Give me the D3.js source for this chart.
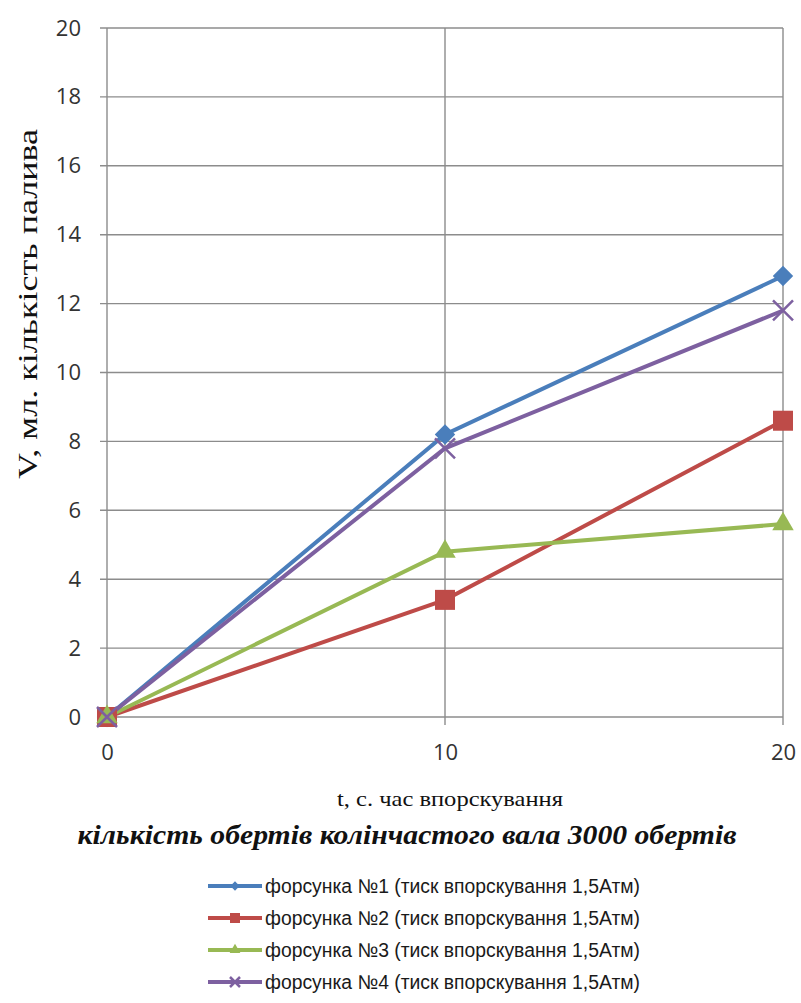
<!DOCTYPE html>
<html><head><meta charset="utf-8">
<script src="https://cdn.jsdelivr.net/npm/d3@7"></script>
<style>body{margin:0;background:#fff}</style>
</head><body>
<svg id="c" width="801" height="1003"></svg>
<script>
const xValues = [0, 10, 20];
const s1 = [0, 8.2, 12.8];
const s2 = [0, 3.4, 8.6];
const s3 = [0, 4.8, 5.6];
const s4 = [0, 7.8, 11.8];
const yTicks = [0, 2, 4, 6, 8, 10, 12, 14, 16, 18, 20];
const xTicks = [0, 10, 20];
const seriesNames = [
  "форсунка №1 (тиск впорскування 1,5Атм)",
  "форсунка №2 (тиск впорскування 1,5Атм)",
  "форсунка №3 (тиск впорскування 1,5Атм)",
  "форсунка №4 (тиск впорскування 1,5Атм)"
];
const colors = ["#4A7EBB", "#BE4B48", "#98B954", "#7D60A0"];
const markers = ["diamond", "square", "triangle", "cross"];
const yLabel = "V, мл. кількість палива";
const xLabel = "t, с. час впорскування";
const subTitle = "кількість обертів колінчастого вала 3000 обертів";

const series = [s1, s2, s3, s4].map((v, i) => ({name: seriesNames[i], color: colors[i], marker: markers[i], values: v.map((y, j) => ({x: xValues[j], y}))}));

const svg = d3.select("#c");
const L = 107, R = 783, T = 28, B = 717;
const x = d3.scaleLinear().domain([0, 20]).range([L, R]);
const y = d3.scaleLinear().domain([0, 20]).range([B, T]);

const tickFont = "Open Sans, sans-serif";

// horizontal gridlines
svg.append("g").selectAll("line").data(yTicks).join("line")
  .attr("x1", L - 7).attr("x2", R).attr("y1", d => y(d)).attr("y2", d => y(d))
  .attr("stroke", "#8c8c8c").attr("stroke-width", 1.4);
// vertical gridlines
svg.append("g").selectAll("line").data(xTicks).join("line")
  .attr("x1", d => x(d)).attr("x2", d => x(d)).attr("y1", T).attr("y2", B + 8)
  .attr("stroke", "#8c8c8c").attr("stroke-width", 1.4);

// axis tick labels
const yAxis = d3.axisLeft(y).tickValues(yTicks).tickSize(0).tickPadding(26);
const gy = svg.append("g").attr("transform", `translate(${L},0)`).call(yAxis);
gy.select(".domain").remove();
gy.selectAll("text").attr("font-family", tickFont).attr("font-size", 22).attr("fill", "#333");

const xAxis = d3.axisBottom(x).tickValues(xTicks).tickSize(0).tickPadding(27);
const gx = svg.append("g").attr("transform", `translate(0,${B})`).call(xAxis);
gx.select(".domain").remove();
gx.selectAll("text").attr("font-family", tickFont).attr("font-size", 22).attr("fill", "#333");

// lines
const line = d3.line().x(d => x(d.x)).y(d => y(d.y));
svg.append("g").selectAll("path").data(series).join("path")
  .attr("d", d => line(d.values)).attr("fill", "none")
  .attr("stroke", d => d.color).attr("stroke-width", 4);

function drawMarker(g, type, color, size) {
  if (type === "diamond") {
    g.append("path").attr("d", d3.symbol(d3.symbolDiamond2, size * size * 0.55)()).attr("fill", color);
  } else if (type === "square") {
    g.append("rect").attr("x", -size / 2).attr("y", -size / 2).attr("width", size).attr("height", size).attr("fill", color);
  } else if (type === "triangle") {
    g.append("path").attr("d", d3.symbol(d3.symbolTriangle, size * size * 0.5)()).attr("fill", color);
  } else {
    const h = size / 2;
    g.append("path").attr("d", `M${-h},${-h}L${h},${h}M${-h},${h}L${h},${-h}`).attr("stroke", color).attr("stroke-width", 2.5);
  }
}

series.forEach(s => {
  s.values.forEach(p => {
    const g = svg.append("g").attr("transform", `translate(${x(p.x)},${y(p.y)})`);
    drawMarker(g, s.marker, s.color, s.marker === "diamond" ? 22 : 20);
  });
});

// axis titles
svg.append("text").attr("transform", `translate(37,304) rotate(-90)`)
  .attr("text-anchor", "middle").attr("font-family", "Liberation Serif, serif")
  .attr("font-size", 28).attr("fill", "#111")
  .attr("textLength", 350).attr("lengthAdjust", "spacingAndGlyphs").text(yLabel);
svg.append("text").attr("x", 450).attr("y", 806).attr("text-anchor", "middle")
  .attr("font-family", "Liberation Serif, serif").attr("font-size", 21).attr("fill", "#111")
  .attr("textLength", 226).attr("lengthAdjust", "spacingAndGlyphs").text(xLabel);
svg.append("text").attr("x", 407).attr("y", 844).attr("text-anchor", "middle")
  .attr("font-family", "Liberation Serif, serif").attr("font-weight", "bold").attr("font-style", "italic")
  .attr("font-size", 27).attr("fill", "#111")
  .attr("textLength", 659).attr("lengthAdjust", "spacingAndGlyphs").text(subTitle);

// legend
const lg = svg.append("g");
series.forEach((s, i) => {
  const yy = 886 + i * 32;
  lg.append("line").attr("x1", 208).attr("x2", 262).attr("y1", yy).attr("y2", yy)
    .attr("stroke", s.color).attr("stroke-width", 4);
  const g = lg.append("g").attr("transform", `translate(235,${yy})`);
  drawMarker(g, s.marker, s.color, 10);
  lg.append("text").attr("x", 265).attr("y", yy + 7)
    .attr("font-family", "Liberation Sans, sans-serif")
    .attr("font-size", 20).attr("fill", "#1a1a1a")
    .attr("textLength", 375).attr("lengthAdjust", "spacingAndGlyphs").text(s.name);
});
</script>
</body></html>
